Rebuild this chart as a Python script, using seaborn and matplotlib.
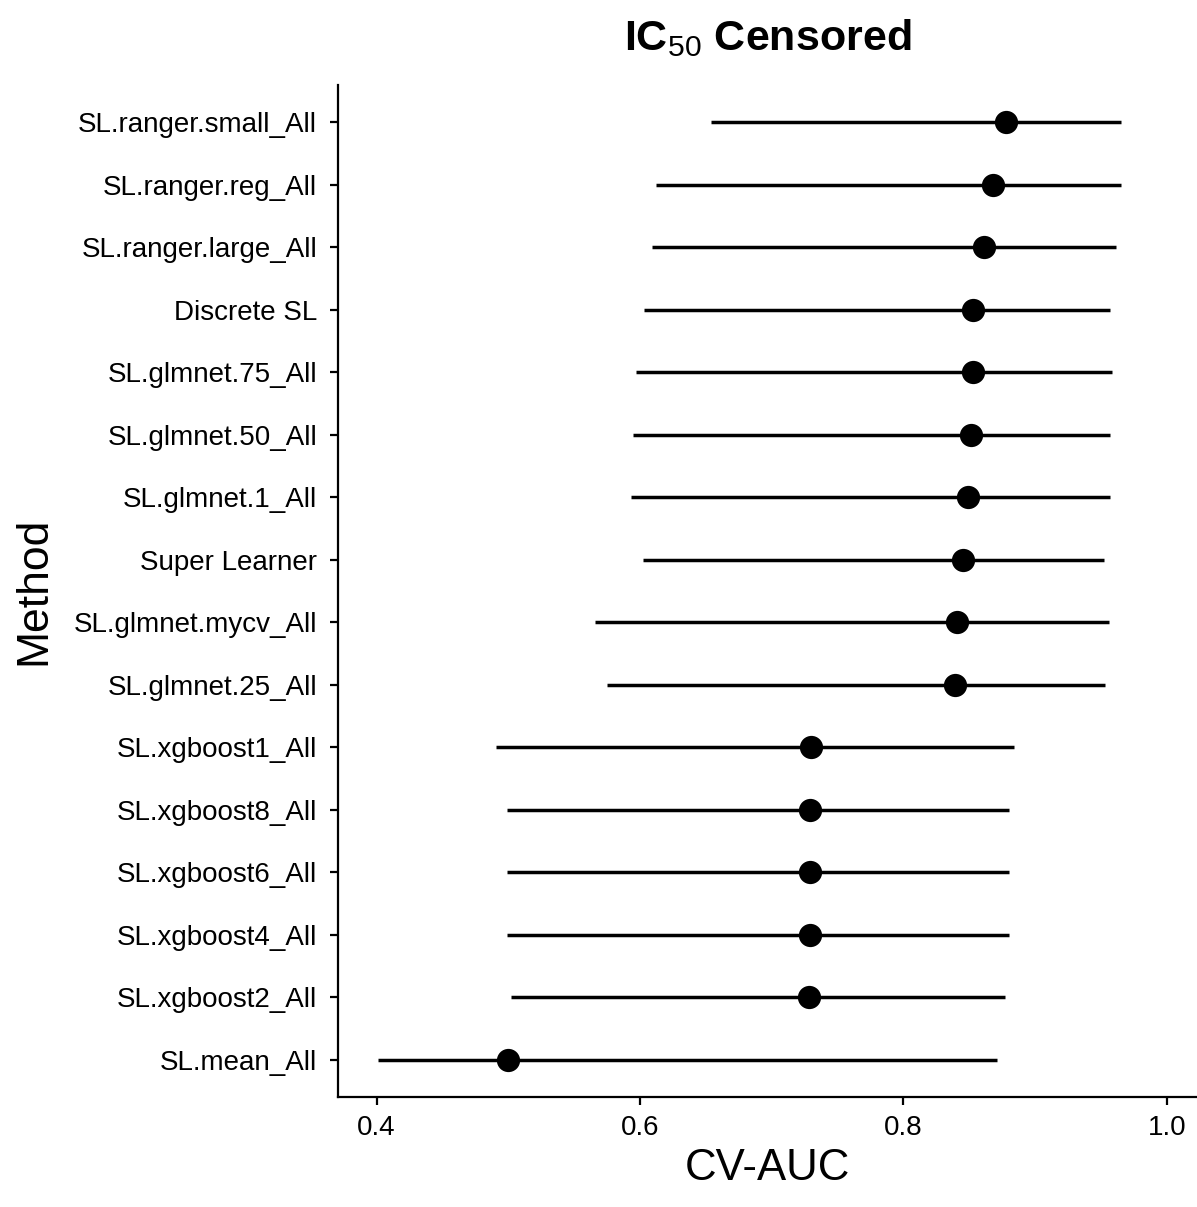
import matplotlib
matplotlib.use("Agg")
import matplotlib.pyplot as plt
import pandas as pd
import seaborn as sns

# Data (top row first)
methods = ["SL.ranger.small_All", "SL.ranger.reg_All", "SL.ranger.large_All",
           "Discrete SL", "SL.glmnet.75_All", "SL.glmnet.50_All",
           "SL.glmnet.1_All", "Super Learner", "SL.glmnet.mycv_All",
           "SL.glmnet.25_All", "SL.xgboost1_All", "SL.xgboost8_All",
           "SL.xgboost6_All", "SL.xgboost4_All", "SL.xgboost2_All",
           "SL.mean_All"]
auc = [0.878, 0.868, 0.861, 0.853, 0.853, 0.851, 0.849, 0.845, 0.841,
       0.839, 0.730, 0.729, 0.729, 0.729, 0.728, 0.500]
ci_low = [0.654, 0.612, 0.609, 0.603, 0.597, 0.595, 0.593, 0.602, 0.566,
          0.575, 0.491, 0.499, 0.499, 0.499, 0.502, 0.401]
ci_high = [0.965, 0.965, 0.961, 0.957, 0.958, 0.957, 0.957, 0.952, 0.956,
           0.953, 0.884, 0.880, 0.880, 0.880, 0.877, 0.871]

df = pd.DataFrame({"Method": methods, "AUC": auc, "lo": ci_low, "hi": ci_high})

sns.set_style("ticks")
plt.rcParams["font.family"] = ["Liberation Sans", "DejaVu Sans"]
plt.rcParams["mathtext.fontset"] = "custom"
plt.rcParams["mathtext.rm"] = "Liberation Sans"

fig = plt.figure(figsize=(11.97, 12.07), dpi=100)
ax = fig.add_axes([0.2824, 0.0911, 0.7176, 0.8385])

ax.hlines(df["Method"], df["lo"], df["hi"], color="black", linewidth=2.5)
sns.scatterplot(data=df, x="AUC", y="Method", ax=ax, color="black",
                s=280, edgecolor="black", linewidth=0, zorder=3)

ax.set_ylim(len(methods) - 0.4, -0.6)
ax.set_xlim(0.3708, 1.0228)
ax.set_xticks([0.4, 0.6, 0.8, 1.0])
ax.set_xticklabels(["0.4", "0.6", "0.8", "1.0"])

for side in ["top", "right"]:
    ax.spines[side].set_visible(False)
for side in ["left", "bottom"]:
    ax.spines[side].set_color("black")
    ax.spines[side].set_linewidth(1.6)

ax.tick_params(axis="both", left=True, bottom=True, length=6, width=1.6,
               color="black", labelsize=20, labelcolor="black", direction="out")
ax.tick_params(axis="y", pad=9)
ax.tick_params(axis="x", pad=7)

ax.set_xlabel("CV-AUC", fontsize=31.5, labelpad=5, color="black")
ax.set_ylabel("Method", fontsize=32, labelpad=14, color="black")
ax.set_title(r"IC$_{50}$ Censored", fontsize=31, fontweight="bold", pad=25,
             color="black")

fig.savefig("out.png", dpi=100)
